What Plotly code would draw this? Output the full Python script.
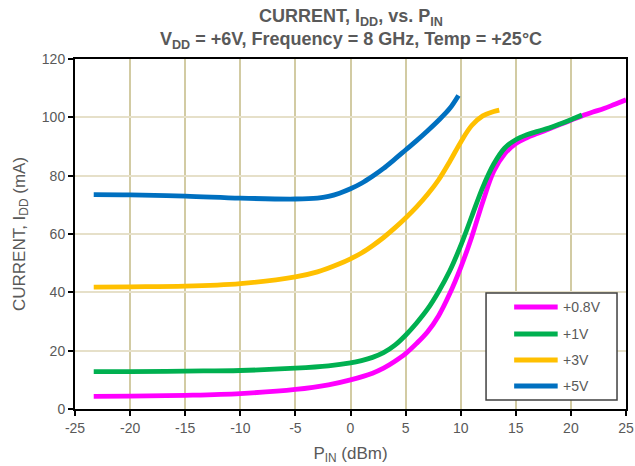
import plotly.graph_objects as go

# ---- data ----
x_08 = [-23.3, -20, -15, -10, -5, -2, 0, 2, 3, 4, 5, 6, 7, 8, 9, 10, 11, 12, 13, 14, 15, 16, 17, 18, 19, 20, 21, 22, 23, 24, 25]
y_08 = [4.3, 4.4, 4.7, 5.3, 6.7, 8.3, 10, 12.3, 14, 16.3, 19, 22.5, 26.5, 32, 39.5, 48.5, 59, 71, 81.5, 87.5, 91, 93, 94.5, 96, 97.5, 99, 100.5, 101.8, 103, 104.5, 106]

x_1 = [-23.3, -20, -15, -10, -5, -2, 0, 1, 2, 3, 4, 5, 6, 7, 8, 9, 10, 11, 12, 13, 14, 15, 16, 17, 18, 19, 20, 21]
y_1 = [12.8, 12.8, 13, 13.2, 14, 14.8, 15.8, 16.6, 17.7, 19.3, 21.8, 25.3, 29.5, 34.3, 40.3, 47.3, 56, 66, 76, 84, 89.5, 92.3, 94, 95.2, 96.3, 97.7, 99.2, 100.8]

x_3 = [-23.3, -20, -15, -10, -5, -3, -1, 0, 1, 2, 3, 4, 5, 6, 7, 8, 9, 10, 11, 12, 13, 13.5]
y_3 = [41.8, 41.9, 42.1, 43, 45.3, 47, 49.8, 51.5, 53.5, 56, 58.8, 62, 65.5, 69.3, 73.6, 78.6, 84.8, 91.5, 97.2, 100.5, 102, 102.5]

x_5 = [-23.3, -20, -15, -10, -5, -3, -2, -1, 0, 1, 2, 3, 4, 5, 6, 7, 8, 9, 9.8]
y_5 = [73.5, 73.4, 73, 72.3, 72, 72.3, 72.9, 74, 75.5, 77.4, 79.8, 82.5, 85.6, 88.8, 92, 95.4, 99, 103, 107.5]

series_names = ["+0.8V", "+1V", "+3V", "+5V"]
series_colors = ["#FF00FF", "#00B050", "#FFC000", "#0070C0"]
series_x = [x_08, x_1, x_3, x_5]
series_y = [y_08, y_1, y_3, y_5]

x_ticks = [-25, -20, -15, -10, -5, 0, 5, 10, 15, 20, 25]
y_ticks = [0, 20, 40, 60, 80, 100, 120]

title_lines = ["<b>CURRENT, I<sub>DD</sub>, vs. P<sub>IN</sub></b>",
               "<b>V<sub>DD</sub> = +6V, Frequency = 8 GHz, Temp = +25°C</b>"]

FONT = "Liberation Sans, Arial, sans-serif"
GRAY = "#595959"

fig = go.Figure()
for n, c, xs, ys in zip(series_names, series_colors, series_x, series_y):
    fig.add_trace(go.Scatter(
        x=xs, y=ys, mode="lines", name=n, showlegend=False,
        line=dict(color=c, width=4.8, shape="spline", smoothing=1.0),
    ))

# ---- legend box drawn inside the plot (paper coordinates) ----
shapes = [dict(type="rect", xref="paper", yref="paper", x0=0.746, x1=0.9837, y0=0.0257, y1=0.3314,
               line=dict(color="#404040", width=1.5), fillcolor="white", layer="above")]
annotations = []
legend_rows = [0.2914, 0.2143, 0.14, 0.0657]
for n, c, yy in zip(series_names, series_colors, legend_rows):
    shapes.append(dict(type="line", xref="paper", yref="paper", x0=0.797, x1=0.876, y0=yy, y1=yy,
                       line=dict(color=c, width=5), layer="above"))
    annotations.append(dict(xref="paper", yref="paper", x=0.882, y=yy, text=n, showarrow=False,
                            xanchor="left", yanchor="middle",
                            font=dict(family=FONT, size=14, color=GRAY)))

# ---- two-line title as annotations ----
for txt, yy in zip(title_lines, [1.118, 1.054]):
    annotations.append(dict(xref="paper", yref="paper", x=0.5, y=yy, text=txt, showarrow=False,
                            xanchor="center", yanchor="middle",
                            font=dict(family=FONT, size=18, color=GRAY)))

fig.update_layout(
    width=635, height=466, autosize=False,
    margin=dict(l=75, r=9, t=59, b=57),
    paper_bgcolor="white", plot_bgcolor="white",
    font=dict(family=FONT, size=14, color=GRAY),
    showlegend=False,
    shapes=shapes,
    annotations=annotations,
    xaxis=dict(
        range=[-25, 25], tickvals=x_ticks, ticktext=[str(v) for v in x_ticks],
        showgrid=True, gridcolor="#D2CBA3", gridwidth=2,
        showline=True, linecolor="black", linewidth=2, mirror=True,
        ticks="outside", ticklen=5, tickcolor="black", tickwidth=1.5,
        zeroline=False, automargin=False,
        title=dict(text="P<sub>IN</sub> (dBm)", font=dict(family=FONT, size=17, color=GRAY), standoff=12),
    ),
    yaxis=dict(
        range=[0, 120], tickvals=y_ticks,
        showgrid=True, gridcolor="#E6E0C9", gridwidth=1.5,
        showline=True, linecolor="black", linewidth=2, mirror=True,
        ticks="outside", ticklen=5, tickcolor="black", tickwidth=1.5,
        zeroline=False, automargin=False,
        title=dict(text="CURRENT, I<sub>DD</sub> (mA)", font=dict(family=FONT, size=17, color=GRAY), standoff=12),
    ),
)

fig.write_html(
    "out.html",
    config={"displayModeBar": False, "responsive": False},
    post_script=("document.body.style.margin='0';document.body.style.overflow='hidden';"
                 "Plotly.relayout('{plot_id}', {width: 635, height: 466});"),
)
